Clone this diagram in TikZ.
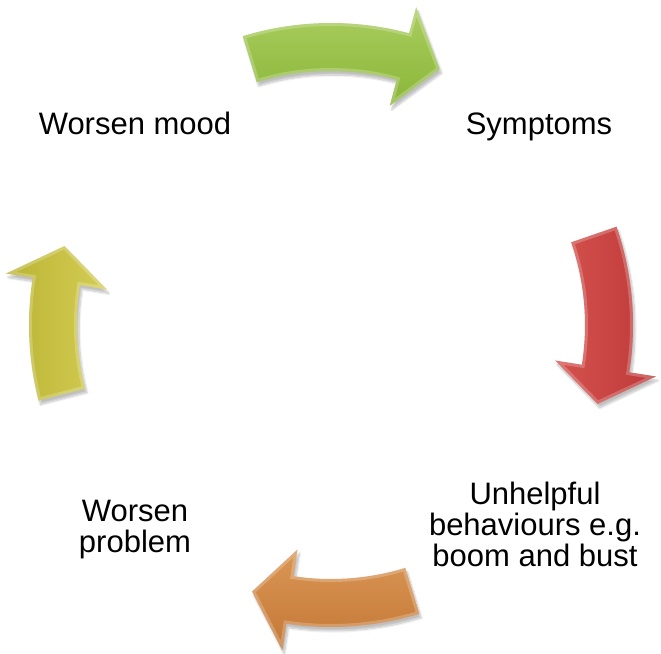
\documentclass[tikz,border=0pt]{standalone}
\usepackage{fontspec}
\setmainfont{Liberation Sans}
\usetikzlibrary{shadows.blur}
\definecolor{gbase}{RGB}{138,182,56}
\definecolor{glight}{RGB}{170,205,95}
\definecolor{rbase}{RGB}{190,58,58}
\definecolor{rlight}{RGB}{212,82,78}
\definecolor{obase}{RGB}{196,120,54}
\definecolor{olight}{RGB}{218,150,85}
\definecolor{ybase}{RGB}{186,180,52}
\definecolor{ylight}{RGB}{212,205,85}
\tikzset{
  lbl/.style={font=\fontsize{31}{30.7}\selectfont, inner sep=0pt, align=center},
  arrshadow/.style={blur shadow={shadow xshift=2pt, shadow yshift=-4pt, shadow blur steps=8, shadow opacity=25}},
}
% #1 tail angle, #2 head base angle, #3 tip angle, #4 light, #5 dark, #6 shading angle
\newcommand\cyclearrow[6]{%
  \def\arrpath{(#1:302) arc[start angle=#1, end angle=#2, radius=302] -- (#2:329) -- (#3:278) -- (#2:227) -- (#2:254) arc[start angle=#2, end angle=#1, radius=254] -- cycle}%
  \path[arrshadow, top color=#4, bottom color=#5, shading angle=#6] \arrpath;
  \begin{scope}
    \clip \arrpath;
    \draw[white, opacity=0.22, line width=6pt, line join=miter] \arrpath;
  \end{scope}
}
\begin{document}
\begin{tikzpicture}[x=1pt, y=1pt]
\useasboundingbox (-331,-328) rectangle (330,325);
\cyclearrow{107}{75}{67}{glight}{gbase}{0}
\cyclearrow{19}{-9}{-16.5}{rlight}{rbase}{90}
\cyclearrow{-73}{-98.5}{-106.5}{olight}{obase}{0}
\cyclearrow{194.5}{171}{163.5}{ylight}{ybase}{-90}
\node[lbl, anchor=base] (mood) at (-196,190) {Worsen mood};
\node[lbl, anchor=base] (symp) at (208,190) {Symptoms};
\node[lbl, anchor=north] (unh) at (204,-157) {Unhelpful\\behaviours e.g.\\boom and bust};
\node[lbl, anchor=north] (prob) at (-196,-175) {Worsen\\problem};
\end{tikzpicture}
\end{document}
